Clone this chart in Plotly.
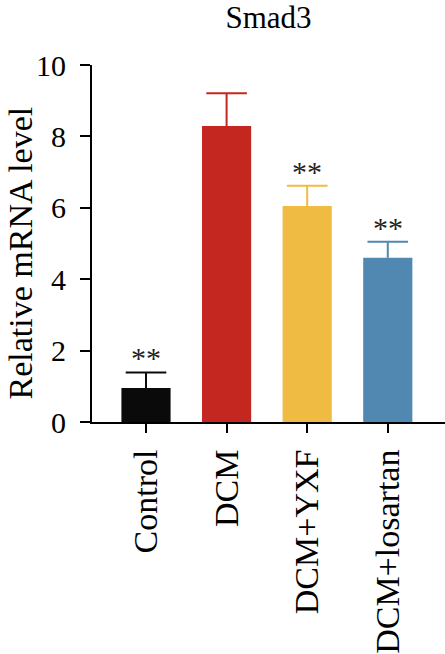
import plotly.graph_objects as go

categories = ["Control", "DCM", "DCM+YXF", "DCM+losartan"]
means = [0.95, 8.29, 6.05, 4.6]
errors = [0.44, 0.92, 0.57, 0.45]
colors = ["#0a0a0a", "#c4271f", "#efbb42", "#5088b2"]
signif = ["**", "", "**", "**"]

FONT = "Liberation Serif"

fig = go.Figure()
for c, m, e, col in zip(categories, means, errors, colors):
    fig.add_trace(go.Bar(
        x=[c], y=[m], marker=dict(color=col, line=dict(width=0)),
        width=0.61, showlegend=False, hoverinfo="skip",
    ))
    # upper error whisker: stem without caps, then a cap marker on top
    fig.add_trace(go.Scatter(
        x=[c], y=[m + e], mode="markers",
        marker=dict(symbol="line-ew", size=29, color=col,
                    line=dict(color=col, width=2)),
        error_y=dict(type="data", array=[0], arrayminus=[e], symmetric=False,
                     color=col, thickness=2, width=0),
        showlegend=False, hoverinfo="skip",
    ))

for c, m, e, s in zip(categories, means, errors, signif):
    if s:
        fig.add_annotation(x=c, y=m + e, text=s, showarrow=False,
                           yanchor="bottom", yshift=-4,
                           font=dict(family=FONT, size=30, color="#222"))

fig.add_shape(type="line", xref="paper", yref="y", x0=-0.032, x1=0, y0=0, y1=0,
              line=dict(color="black", width=2))

fig.add_annotation(text="Relative mRNA level", xref="paper", yref="paper",
                   x=0, y=0.472, xanchor="center", yanchor="middle",
                   xshift=-72, textangle=-90, showarrow=False,
                   font=dict(family=FONT, size=34, color="black"))

fig.update_layout(
    width=445, height=654,
    margin=dict(l=92, r=0, t=65, b=229),
    plot_bgcolor="white", paper_bgcolor="white",
    barmode="overlay",
    font=dict(family=FONT, color="black"),
    title=dict(text="Smad3", x=0.5, xref="paper", xanchor="center",
               yref="container", y=1 - 17 / 654, yanchor="middle",
               font=dict(family=FONT, size=31, color="black")),
    xaxis=dict(range=[-0.67, 3.71], showline=True, linecolor="black", linewidth=2,
               ticks="outside", ticklen=9, tickwidth=2, tickcolor="black",
               tickangle=-90, tickfont=dict(family=FONT, size=34),
               ticklabelstandoff=3,
               showgrid=False, zeroline=False),
    yaxis=dict(range=[0, 10], tickvals=[0, 2, 4, 6, 8, 10], showline=True,
               linecolor="black", linewidth=2, ticks="outside", ticklen=10,
               tickwidth=2, tickcolor="black", tickfont=dict(family=FONT, size=30),
               ticklabelstandoff=8,
               showgrid=False, zeroline=False),
)

fig.write_html("out.html")
